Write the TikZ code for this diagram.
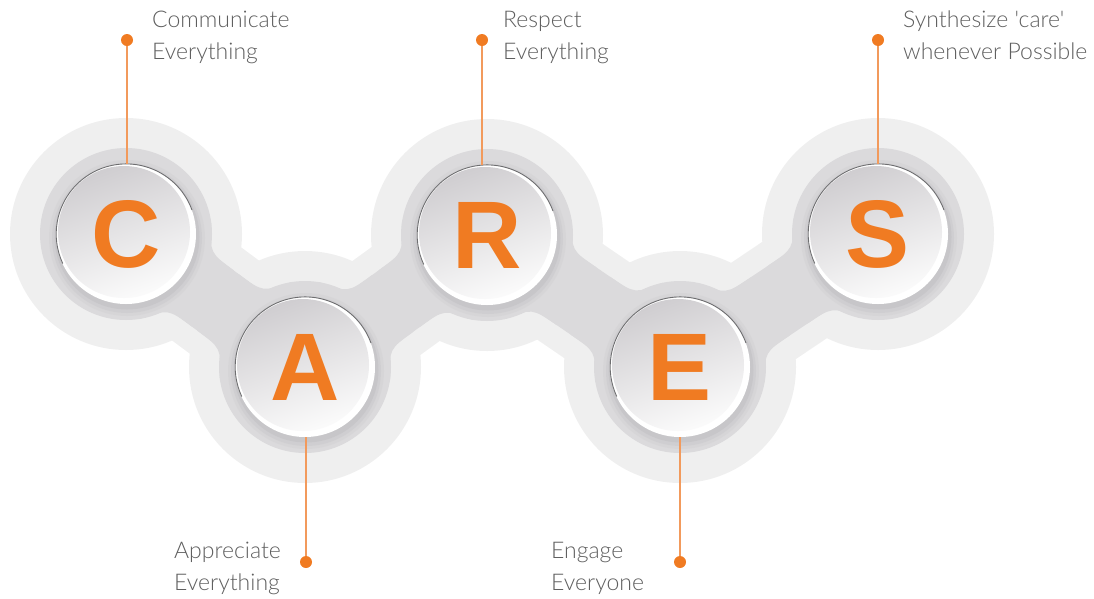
\documentclass[tikz,border=0pt]{standalone}
\usepackage{fontspec}
\IfFontExistsTF{Lato Light}{\newfontfamily\lblfont{Lato Light}}{\newfontfamily\lblfont{Lato}}
\newfontfamily\letfont{Liberation Sans}
\usetikzlibrary{calc}
\definecolor{halo}{HTML}{EFEFEF}
\definecolor{ringc}{HTML}{DBDADC}
\definecolor{shad}{HTML}{BEBDC0}
\definecolor{orng}{HTML}{F07B22}
\definecolor{leadc}{HTML}{F29A5C}
\definecolor{txt}{HTML}{5E5E5E}
\definecolor{facetop}{HTML}{CFCDD0}
\definecolor{facebot}{HTML}{FDFDFD}
\definecolor{edgec}{HTML}{6E6E70}
\tikzset{
  button/.style={circle, minimum size=140pt, inner sep=0pt, fill=white,
    text=orng, font=\letfont\bfseries\fontsize{96}{96}\selectfont,
    path picture={\shade[top color=facetop, bottom color=facebot, shading angle=20]
      ($(path picture bounding box.center)+(-2,-2)$) circle (66);}},
  dotnode/.style={circle, fill=orng, minimum size=12pt, inner sep=0pt},
  lead/.style={draw=leadc, line width=1.4pt},
  lbl/.style={font=\lblfont\fontsize{23}{31.5}\selectfont, text=txt, align=left, inner sep=0pt},
}
% smooth fillets where the grey band meets a ring (#1 = ring centre, #2 = neighbour)
\newcommand\myfillet[2]{%
  \foreach \a/\k/\b in {44/24/90,-44/-24/-90}{%
    \coordinate (fx) at ($(#1)!108.5pt!(#2)$);
    \fill[ringc] (#1) -- ($(#1)!86pt!\a:(#2)$) .. controls ($(#1)!86pt!\k:(#2)$) .. ($(fx)!35pt!\b:(#2)$) -- (fx) -- cycle;
  }}
\begin{document}
\begin{tikzpicture}[x=1pt,y=-1pt]
\useasboundingbox (0,0) rectangle (1094,598);
\coordinate (pC) at (126,234);
\coordinate (pA) at (305,367);
\coordinate (pR) at (487,235);
\coordinate (pE) at (680,367);
\coordinate (pS) at (878,234);
% light halo
\foreach \p in {pC,pA,pR,pE,pS} \fill[halo] (\p) circle (116);
\draw[halo, line width=116pt, line join=round] (pC) -- (pA) -- (pR) -- (pE) -- (pS);
% middle ring
\foreach \p in {pC,pA,pR,pE,pS} \fill[ringc] (\p) circle (86);
\draw[ringc, line width=70pt, line join=round] (pC) -- (pA) -- (pR) -- (pE) -- (pS);
\myfillet{pC}{pA}\myfillet{pA}{pC}
\myfillet{pA}{pR}\myfillet{pR}{pA}
\myfillet{pR}{pE}\myfillet{pE}{pR}
\myfillet{pE}{pS}\myfillet{pS}{pE}
% soft shadows under buttons
\foreach \p in {pC,pA,pR,pE,pS} {
  \fill[shad, opacity=0.15] ($(\p)+(1,4)$) circle (78);
  \fill[shad, opacity=0.25] ($(\p)+(1,4)$) circle (75);
  \fill[shad, opacity=0.45] ($(\p)+(1,3)$) circle (72.5);
}
% dots
\node[dotnode] (dC) at (127,40) {};
\node[dotnode] (dR) at (482,40) {};
\node[dotnode] (dS) at (878,40) {};
\node[dotnode] (dA) at (306,562) {};
\node[dotnode] (dE) at (680,562) {};
% buttons
\node[button] (C) at (pC) {C};
\node[button] (A) at (pA) {A};
\node[button] (R) at (pR) {R};
\node[button] (E) at (pE) {E};
\node[button] (S) at (pS) {S};
\foreach \n in {C,A,R,E,S}
  \draw[edgec, line width=0.9pt] (\n.20) arc[start angle=-20, end angle=-205, radius=70];
% leads
\draw[lead] (dC) -- (dC |- C.north);
\draw[lead] (dR) -- (dR |- R.north);
\draw[lead] (dS) -- (dS |- S.north);
\draw[lead] (dA) -- (dA |- A.south);
\draw[lead] (dE) -- (dE |- E.south);
% labels (base anchor = baseline of the last line)
\node[lbl, anchor=base west] (tC) at (152,59) {Communicate\\Everything};
\node[lbl, anchor=base west] (tR) at (503,59) {Respect\\Everything};
\node[lbl, anchor=base west] (tS) at (903,59) {Synthesize 'care'\\whenever Possible};
\node[lbl, anchor=base west] (tA) at (174,590) {Appreciate\\Everything};
\node[lbl, anchor=base west] (tE) at (551,590) {Engage\\Everyone};
\end{tikzpicture}
\end{document}
